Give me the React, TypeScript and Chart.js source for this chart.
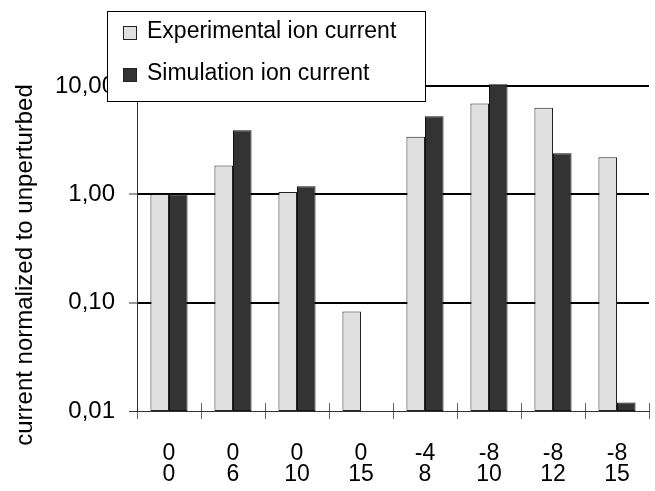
import { useEffect, useRef } from "react";
import { Chart, registerables } from "chart.js";
Chart.register(...registerables);

const categoriesTop = ["0", "0", "0", "0", "-4", "-8", "-8", "-8"];
const categoriesBottom = ["0", "6", "10", "15", "8", "10", "12", "15"];
const experimental = [1.0, 1.85, 1.05, 0.083, 3.4, 6.9, 6.3, 2.2];
const simulation = [1.0, 3.9, 1.19, null, 5.25, 10.4, 2.4, 0.012];
const yTickValues = [0.01, 0.1, 1, 10];
const yTickLabels = ["0,01", "0,10", "1,00", "10,00"];
const seriesNames = ["Experimental ion current", "Simulation ion current"];
const seriesColors = ["#e0e0e0", "#333333"];
const yTitle = "current normalized to unperturbed";

const FONT = "'Liberation Sans', Arial, Helvetica, sans-serif";

export default function App() {
  const ref = useRef<HTMLCanvasElement | null>(null);

  useEffect(() => {
    document.body.style.margin = "0";
    const canvas = ref.current;
    if (!canvas) return;

    const crossTicks = {
      id: "crossTicks",
      afterDraw(chart: any) {
        const { ctx, chartArea } = chart;
        const n = categoriesTop.length;
        const w = (chartArea.right - chartArea.left) / n;
        ctx.save();
        ctx.strokeStyle = "#666";
        ctx.lineWidth = 1;
        for (let i = 1; i <= n; i++) {
          const x = Math.round(chartArea.left + i * w) + 0.5;
          ctx.beginPath();
          ctx.moveTo(x, chartArea.bottom - 8);
          ctx.lineTo(x, chartArea.bottom);
          ctx.stroke();
        }
        ctx.restore();
      },
    };

    const yTitlePlugin = {
      id: "yTitlePlugin",
      afterDraw(chart: any) {
        const { ctx } = chart;
        ctx.save();
        ctx.translate(25, 265);
        ctx.rotate(-Math.PI / 2);
        ctx.font = `24px ${FONT}`;
        ctx.fillStyle = "#000";
        ctx.textAlign = "center";
        ctx.textBaseline = "middle";
        ctx.fillText(yTitle, 0, 0);
        ctx.restore();
      },
    };

    const legendBox = {
      id: "legendBox",
      afterDraw(chart: any) {
        const { ctx } = chart;
        ctx.save();
        ctx.fillStyle = "#fff";
        ctx.fillRect(107, 11, 318, 90);
        ctx.strokeStyle = "#000";
        ctx.lineWidth = 1;
        ctx.strokeRect(107.5, 11.5, 318, 90);
        const rows = [33, 75];
        ctx.font = `23px ${FONT}`;
        ctx.textBaseline = "middle";
        ctx.textAlign = "left";
        chart.data.datasets.forEach((ds: any, i: number) => {
          const y = rows[i];
          ctx.fillStyle = ds.backgroundColor;
          ctx.fillRect(123, y - 7, 14, 14);
          ctx.strokeStyle = "#222";
          ctx.strokeRect(123.5, y - 6.5, 13, 13);
          ctx.fillStyle = "#000";
          ctx.fillText(ds.label, 147, y - 1);
        });
        ctx.restore();
      },
    };

    const chart = new Chart(canvas, {
      type: "bar",
      data: {
        labels: categoriesTop.map((t, i) => [t, categoriesBottom[i]]),
        datasets: [
          {
            label: seriesNames[0],
            data: experimental,
            backgroundColor: seriesColors[0],
            borderColor: "#222",
            borderWidth: 1,
            borderSkipped: false,
            barPercentage: 1,
            categoryPercentage: 0.58,
            clip: false as any,
          },
          {
            label: seriesNames[1],
            data: simulation as any,
            backgroundColor: seriesColors[1],
            borderColor: "#111",
            borderWidth: 1,
            borderSkipped: false,
            barPercentage: 1,
            categoryPercentage: 0.58,
            clip: false as any,
          },
        ],
      },
      options: {
        responsive: false,
        animation: false,
        layout: { padding: { top: 86, right: 6, left: 0, bottom: 0 } },
        plugins: {
          legend: { display: false },
          tooltip: { enabled: false },
          title: { display: false },
        },
        scales: {
          x: {
            type: "category",
            offset: true,
            grid: {
              offset: true,
              drawOnChartArea: false,
              color: "#666",
              lineWidth: 1,
              tickLength: 8,
            },
            border: { display: true, color: "#333", width: 1 },
            ticks: {
              color: "#000",
              font: { family: FONT, size: 23, lineHeight: 0.93 },
              padding: 24,
              maxRotation: 0,
              autoSkip: false,
            },
            afterFit(scale: any) {
              scale.height = 80;
            },
          },
          y: {
            type: "logarithmic",
            min: 0.01,
            max: 10,
            afterBuildTicks(scale: any) {
              scale.ticks = yTickValues.map((v) => ({ value: v }));
            },
            afterFit(scale: any) {
              scale.width = 137;
            },
            grid: {
              color: "#000",
              lineWidth: (c: any) => (c.tick && c.tick.value === yTickValues[0] ? 1 : 2),
              tickLength: 8,
              tickWidth: 1,
              tickColor: "#333",
            },
            border: { display: true, color: "#333", width: 1 },
            ticks: {
              color: "#000",
              font: { family: FONT, size: 24 },
              padding: 14,
              callback: (v: any) => {
                const idx = yTickValues.findIndex((t) => Math.abs(t - Number(v)) < 1e-9);
                return idx >= 0 ? yTickLabels[idx] : "";
              },
            },
          },
        },
      },
      plugins: [crossTicks, yTitlePlugin, legendBox],
    });

    return () => chart.destroy();
  }, []);

  return (
    <div style={{ position: "relative", width: 655, height: 491 }}>
      <canvas ref={ref} width={655} height={491} style={{ width: 655, height: 491, display: "block" }} />
    </div>
  );
}
